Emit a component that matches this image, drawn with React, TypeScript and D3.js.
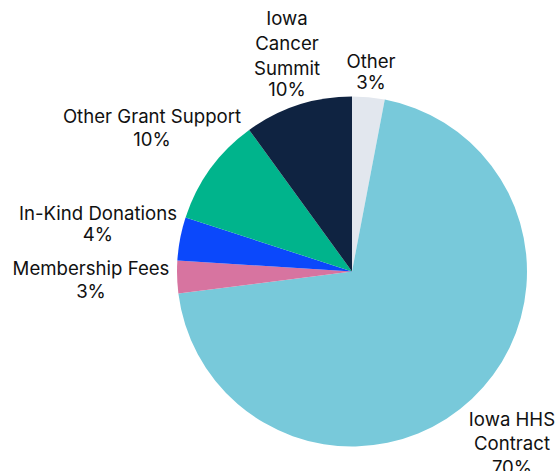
import React from "react";
import * as d3 from "d3";

const categories = ["Other", "Iowa HHS Contract", "Membership Fees", "In-Kind Donations", "Other Grant Support", "Iowa Cancer Summit"];
const values = [3, 70, 3, 4, 10, 10];
const colors = ["#e2e7ee", "#78c9da", "#d774a0", "#0b48fb", "#00b48c", "#0f2341"];
const labelLines = [
  ["Other", "3%"],
  ["Iowa HHS", "Contract", "70%"],
  ["Membership Fees", "3%"],
  ["In-Kind Donations", "4%"],
  ["Other Grant Support", "10%"],
  ["Iowa", "Cancer", "Summit", "10%"],
];
// label anchor (center x, baselines)
const labelPos: { x: number; ys: number[] }[] = [
  { x: 371, ys: [68, 89] },
  { x: 512, ys: [426, 450, 474] },
  { x: 91, ys: [275, 298] },
  { x: 98, ys: [220, 241] },
  { x: 152, ys: [123, 146] },
  { x: 287, ys: [25, 50, 75, 96] },
];

export default function App() {
  const W = 559, H = 471;
  const cx = 352, cy = 271.5, r = 175;
  const pie = d3.pie<number>().value((d) => d).sort(null);
  const arcs = pie(values);
  const arc = d3.arc<d3.PieArcDatum<number>>().innerRadius(0).outerRadius(r);
  return (
    <svg width={W} height={H} style={{ position: "absolute", left: 0, top: 0 }}>
      <rect width={W} height={H} fill="#fff" />
      <g transform={`translate(${cx},${cy})`}>
        {arcs.map((a, i) => (
          <path key={categories[i]} d={arc(a) || ""} fill={colors[i]} />
        ))}
      </g>
      <g fontFamily="Inter, 'Noto Sans', sans-serif" fontSize={18.6} fill="#111" textAnchor="middle">
        {labelLines.map((lines, i) =>
          lines.map((t, j) => (
            <text key={`${i}-${j}`} x={labelPos[i].x} y={labelPos[i].ys[j]}>
              {t}
            </text>
          ))
        )}
      </g>
    </svg>
  );
}
